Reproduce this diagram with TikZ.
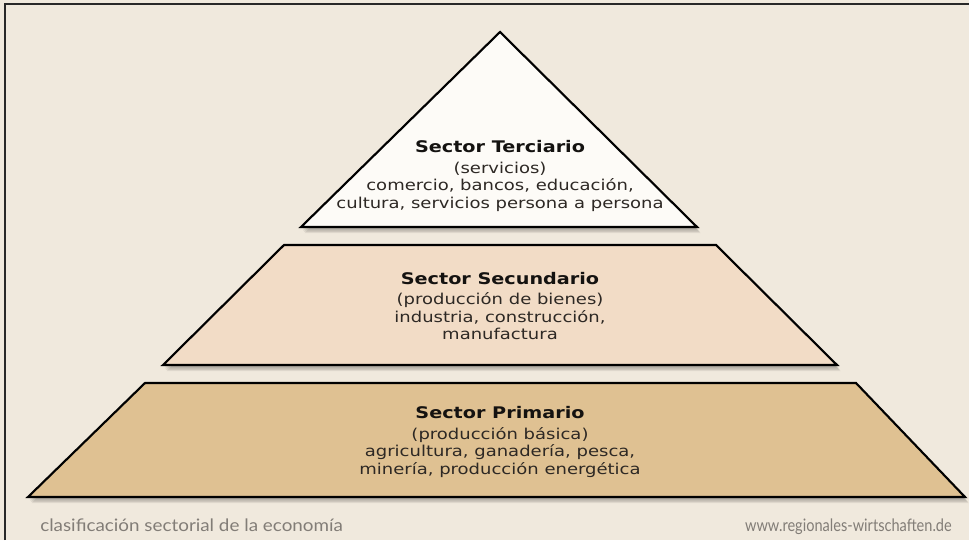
\documentclass[tikz,border=0pt]{standalone}
\usepackage{fontspec}
\setmainfont{DejaVu Sans}
\newfontfamily\footfont{Lato}
\usepackage{graphicx}
\definecolor{bgcol}{RGB}{240,233,221}
\definecolor{topcol}{RGB}{253,251,247}
\definecolor{midcol}{RGB}{242,220,198}
\definecolor{lowcol}{RGB}{223,193,146}
\definecolor{titlecol}{RGB}{20,18,16}
\definecolor{bodycol}{RGB}{45,40,36}
\definecolor{footcol}{RGB}{130,125,119}
\definecolor{framecol}{RGB}{40,40,40}
\newcommand\wide[1]{\scalebox{1.2}[1]{#1}}
\tikzset{
  layer/.style={draw=black, line width=1.6pt, line join=miter},
  blockText/.style={align=center, text=bodycol, inner sep=0pt,
    font=\fontsize{11.25}{13.1}\selectfont},
  footText/.style={text=footcol, inner sep=0pt},
  shade layer/.style={fill=black, fill opacity=0.075, draw=none}
}
\newcommand\softshadow[1]{%
  \foreach \k in {1,...,5}{%
    \path[shade layer, shift={(0.7*\k,1.2*\k)}] #1;}}
\begin{document}
\begin{tikzpicture}[x=0.75pt,y=-0.75pt]
\useasboundingbox (0,0) rectangle (969,540);
\fill[bgcol] (0,0) rectangle (969,540);
\draw[framecol, line width=1.6pt] (5,540) -- (5,4) -- (969,4);

% top triangle
\softshadow{(500,32) -- (697,227) -- (301,227) -- cycle}
\path[layer, fill=topcol] (500,32) coordinate (tA) -- (697,227) coordinate (tR) -- (301,227) coordinate (tL) -- cycle;

% middle trapezoid
\softshadow{(284,245) -- (716,245) -- (837,365) -- (163,365) -- cycle}
\path[layer, fill=midcol] (284,245) coordinate (mTL) -- (716,245) coordinate (mTR) -- (837,365) coordinate (mBR) -- (163,365) coordinate (mBL) -- cycle;

% bottom trapezoid
\softshadow{(145,383) -- (856,383) -- (965,497) -- (28,497) -- cycle}
\path[layer, fill=lowcol] (145,383) coordinate (bTL) -- (856,383) coordinate (bTR) -- (965,497) coordinate (bBR) -- (28,497) coordinate (bBL) -- cycle;

\node[blockText] (terciario) at (500,176) {%
  \wide{\textcolor{titlecol}{\fontsize{12}{13}\selectfont\bfseries Sector Terciario}}\\[2.4pt]
  \wide{(servicios)}\\
  \wide{comercio, bancos, educación,}\\
  \wide{cultura, servicios persona a persona}};

\node[blockText] (secundario) at (500,306) {%
  \wide{\textcolor{titlecol}{\fontsize{12}{13}\selectfont\bfseries Sector Secundario}}\\[2.4pt]
  \wide{(producción de bienes)}\\
  \wide{industria, construcción,}\\
  \wide{manufactura}};

\node[blockText] (primario) at (500,442) {%
  \wide{\textcolor{titlecol}{\fontsize{12}{13}\selectfont\bfseries Sector Primario}}\\[2.4pt]
  \wide{(producción básica)}\\
  \wide{agricultura, ganadería, pesca,}\\
  \wide{minería, producción energética}};

\node[footText, anchor=base west] (foot1) at (40,531)
  {\resizebox{227pt}{9.5pt}{\footfont clasificación sectorial de la economía}};
\node[footText, anchor=base east] (foot2) at (952,531)
  {\resizebox{155pt}{9.5pt}{\footfont www.regionales-wirtschaften.de}};
\end{tikzpicture}
\end{document}
